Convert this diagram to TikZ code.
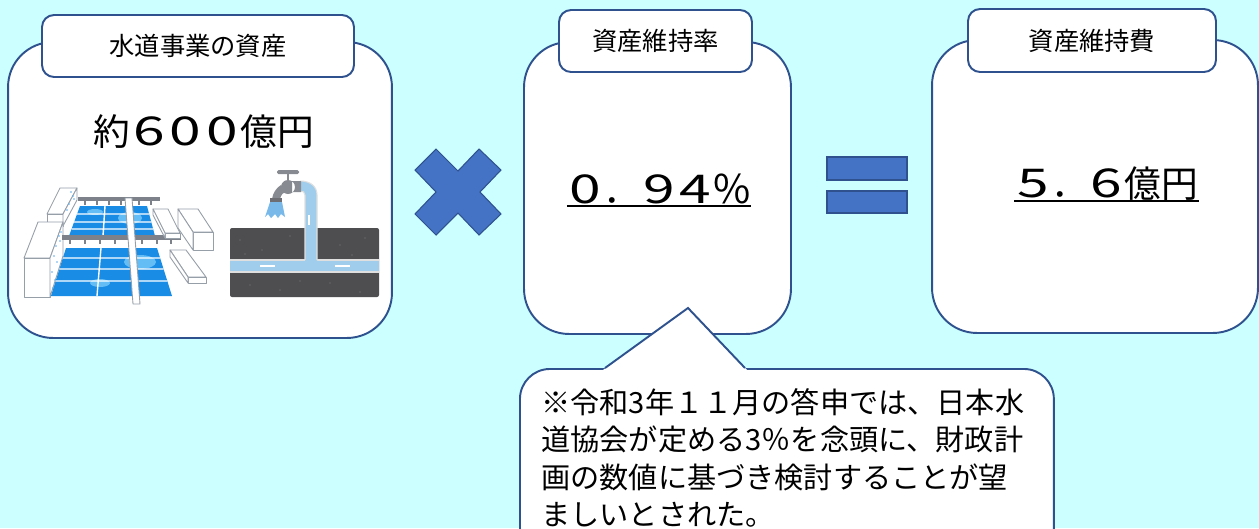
\documentclass[tikz,border=0pt]{standalone}
\usepackage{fontspec}
\usepackage{graphicx}
\setmainfont{Noto Sans CJK JP}
\definecolor{bgcyan}{RGB}{204,255,255}
\definecolor{frameblue}{RGB}{47,82,143}
\definecolor{markblue}{RGB}{68,114,196}
\definecolor{waterblue}{RGB}{25,140,230}
\definecolor{waterlight}{RGB}{100,190,245}
\definecolor{wallgray}{RGB}{150,158,168}
\definecolor{beamgray}{RGB}{125,130,138}
\definecolor{soilgray}{RGB}{78,78,80}
\definecolor{pipeblue}{RGB}{160,205,235}
\definecolor{tapgray}{RGB}{135,138,145}
\tikzstyle {frame} = [draw=frameblue, line width=1.1pt]
\tikzstyle {panel} = [frame, fill=white, rounded corners=0.9cm]
\tikzstyle {tab} = [frame, fill=white, rounded corners=0.24cm, font=\fontsize{14.4pt}{17pt}\selectfont]
\tikzstyle {notebox} = [frame, fill=white, rounded corners=0.6cm]
\tikzstyle {value} = [inner sep=0pt, font=\fontsize{20.9pt}{24pt}\selectfont]
\tikzstyle {notetext} = [inner sep=0pt, align=left, font=\fontsize{16.6pt}{21.3pt}\selectfont]
\tikzstyle {uline} = [line width=1.2pt]
\tikzstyle {sign} = [fill=markblue, draw=frameblue, line width=0.6pt]
\tikzstyle {wall} = [fill=white, draw=wallgray, line width=0.5pt, line join=round]
% broad gothic digit in a full-width cell
\newcommand{\wdig}[1]{\makebox[1em]{\scalebox{1.55}[1.08]{#1}}}

\begin{document}
\begin{tikzpicture}[x=0.02cm, y=-0.02cm]
  \fill [bgcyan] (0,0) rectangle (1259,528);
  \useasboundingbox (0,0) rectangle (1259,528);

  % the three panels and their headings
  \node [panel, minimum width=7.68cm, minimum height=5.92cm] (assets) at (200,190) {};
  \node [panel, minimum width=5.34cm, minimum height=5.84cm] (ratebox) at (657.5,188) {};
  \node [panel, minimum width=6.52cm, minimum height=5.86cm] (costbox) at (1095,186.5) {};
  \node [tab, minimum width=6.24cm, minimum height=1.24cm] (assetstab) at (198,46) {水道事業の資産};
  \node [tab, minimum width=3.86cm, minimum height=1.24cm] (ratetab) at (655.5,41) {資産維持率};
  \node [tab, minimum width=4.96cm, minimum height=1.26cm] (costtab) at (1092,40.5) {資産維持費};

  % speech bubble under the rate
  \node [notebox, anchor=north west, minimum width=10.68cm, minimum height=4cm] (note) at (519,368) {};
  \fill [white] (603,370) -- (688,308) -- (747,370) -- cycle;
  \draw [frame] (605,368) -- (688,308) -- (745,368);

  \node [value, anchor=base] (assetsvalue) at (204,145.5) {約\wdig{6}\wdig{0}\wdig{0}億円};
  \node [value, anchor=base] (ratevalue) at (659,203) {\wdig{0}．\wdig{9}\wdig{4}\makebox[1em]{\scalebox{1.1}[1.08]{\%}}};
  \node [value, anchor=base] (costvalue) at (1106.5,197.5) {\wdig{5}．\wdig{6}億円};
  \draw [uline] ([yshift=-0.065cm]ratevalue.base west) -- ([yshift=-0.065cm]ratevalue.base east);
  \draw [uline] ([yshift=-0.065cm]costvalue.base west) -- ([yshift=-0.065cm]costvalue.base east);
  \node [notetext, anchor=north west] (notetext) at (541,388)
    {※令和3年１１月の答申では、日本水\\道協会が定める3％を念頭に、財政計\\画の数値に基づき検討することが望\\ましいとされた。};

  % times and equals signs
  \draw [sign] (436,149) -- (458,171) -- (479,149) -- (501,170) -- (480,192) -- (501,214)
    -- (479,235) -- (458,213) -- (436,235) -- (415,214) -- (436,192) -- (415,170) -- cycle;
  \draw [sign] (827,157) rectangle (907,180);
  \draw [sign] (827,191) rectangle (907,213);

  % water treatment plant
  \draw [wall] (60,188) -- (77,188) -- (63,214) -- (47,214) -- cycle;
  \draw [wall] (47,214) rectangle (63,226);
  \draw [wall] (77,188) -- (77,200) -- (63,226) -- (63,214) -- cycle;
  \draw [wall] (38,222) -- (63,222) -- (50,258) -- (24,258) -- cycle;
  \draw [wall] (24,258) rectangle (50,297);
  \draw [wall] (63,222) -- (63,256) -- (50,297) -- (50,258) -- cycle;
  \foreach \x/\y in {73/196, 69/204, 71/192, 67/210, 74/199, 59/236, 56/246, 61/232, 54/256, 57/262, 52/272, 55/280, 60/241, 53/288} {
    \fill [waterblue!70] (\x,\y) circle (0.5pt);
  }
  \begin{scope}
    \clip (80,206) -- (147,206) -- (155,236) -- (69,236) -- cycle;
    \fill [waterblue] (60,200) rectangle (160,240);
    \fill [waterlight] (130,218) ellipse (12 and 6);
    \fill [waterlight] (95,212) ellipse (8 and 3);
  \end{scope}
  \begin{scope}
    \clip (66,248) -- (157,248) -- (172,296) -- (51,296) -- cycle;
    \fill [waterblue] (45,245) rectangle (175,300);
    \fill [waterlight] (140,262) ellipse (16 and 7);
    \fill [waterlight] (100,283) ellipse (10 and 4);
  \end{scope}
  \draw [white, line width=0.8pt] (77,214) -- (149,214) (74.1,222) -- (151.3,222) (71.6,229) -- (153.1,229) (105,206) -- (103,236);
  \draw [white, line width=0.8pt] (62.9,258) -- (160.1,258) (59.4,269) -- (163.6,269) (55.7,281) -- (167.3,281) (101,248) -- (97,296);
  \fill [beamgray] (78,197) rectangle (160,201);
  \foreach \x in {85,97,109,121,139,151} {
    \fill [beamgray] (\x-1,201) rectangle (\x+1,205);
  }
  \fill [beamgray] (62,235) rectangle (181,240);
  \foreach \x in {70,85,100,115,142,157,171} {
    \fill [beamgray] (\x-1,240) rectangle (\x+1,244);
  }
  \draw [wall] (125,198) -- (132,198) -- (140,304) -- (133,304) -- cycle;
  \draw [wall] (153,209) -- (168,209) -- (180,233) -- (165,233) -- cycle;
  \draw [wall] (165,233) rectangle (180,238);
  \draw [wall] (153,209) -- (165,233) -- (165,238) -- (153,215) -- cycle;
  \draw [wall] (178,209) -- (198,209) -- (213,232) -- (193,232) -- cycle;
  \draw [wall] (193,232) rectangle (213,250);
  \draw [wall] (178,209) -- (193,232) -- (193,250) -- (178,228) -- cycle;
  \draw [wall] (170,250) -- (186,250) -- (206,277) -- (188,277) -- cycle;
  \draw [wall] (188,277) rectangle (206,283);
  \draw [wall] (170,250) -- (188,277) -- (188,283) -- (170,257) -- cycle;

  % tap and buried pipe
  \fill [soilgray, rounded corners=0.04cm] (230,228) rectangle (379,297);
  \foreach \x/\y in {240/240, 262/250, 290/236, 340/245, 365/238, 250/285, 280/290, 330/283, 360/292, 300/281, 352/255, 245/254} {
    \fill [black!60] (\x,\y) circle (0.5pt);
  }
  \fill [pipeblue] (230,260) rectangle (379,272);
  \draw [white!75!gray, line width=0.6pt] (230,260) -- (305,260) (317,260) -- (379,260) (230,272) -- (379,272);
  \fill [pipeblue] (305,261) -- (305,195) .. controls (305,192) and (303,191) .. (300,191)
    -- (300,181) .. controls (310,181) and (317,186) .. (317,195) -- (317,261) -- cycle;
  \draw [white!75!gray, line width=0.6pt] (305,260) -- (305,195) .. controls (305,192) and (303,191) .. (300,191)
    (300,181) .. controls (310,181) and (317,186) .. (317,195) -- (317,260);
  \draw [white, line width=0.6pt] (309,215) -- (309,225) (260,266) -- (275,266) (335,266) -- (350,266);
  \fill [tapgray] (287,172) rectangle (289,181);
  \fill [tapgray, rounded corners=0.03cm] (277,170) rectangle (299,174);
  \fill [tapgray] (288,187) circle (7) (292,181) rectangle (301,192);
  \fill [tapgray] (281,185) .. controls (276,188) and (273,193) .. (272,199) -- (280,199)
    .. controls (281,195) and (283,192) .. (287,192) -- cycle;
  \fill [tapgray!80!black] (270,198) rectangle (282,202);
  \fill [pipeblue!70!waterblue] (270,202) -- (282,202) -- (285,217) -- (281,214) -- (278,218)
    -- (275,214) -- (271,218) -- (268,214) -- (265,217) -- cycle;
\end{tikzpicture}
\end{document}
